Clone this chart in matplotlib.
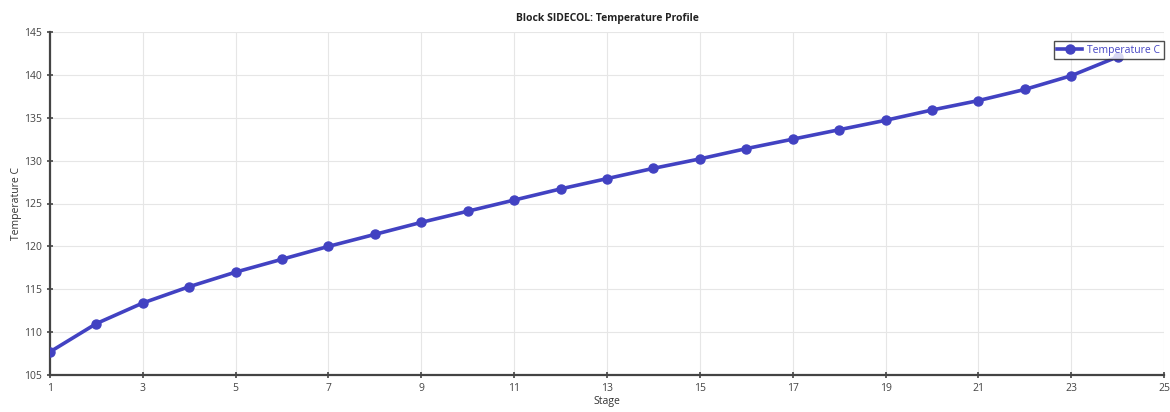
import matplotlib
matplotlib.use('Agg')
import matplotlib.pyplot as plt

# stage temperatures for the side column
stages = list(range(1, 25))
temps = [107.7, 111.0, 113.4, 115.3, 117.0, 118.5, 120.0, 121.4, 122.8, 124.1,
         125.4, 126.7, 127.9, 129.1, 130.2, 131.4, 132.5, 133.6, 134.7, 135.9,
         137.0, 138.3, 139.9, 142.1]
xticks = list(range(1, 26, 2))
yticks = list(range(105, 146, 5))

plt.rcParams['font.family'] = ['Open Sans', 'DejaVu Sans']

fig = plt.figure(figsize=(11.7, 4.12), dpi=100)
ax = fig.add_axes([50 / 1170, 37 / 412, 1114 / 1170, 343 / 412])

ax.plot(stages, temps, color='#4242c2', lw=2.6, marker='o', ms=6.5,
        label='Temperature C', zorder=3)

ax.set_xlim(1, 25)
ax.set_ylim(105, 145)
ax.set_xticks(xticks)
ax.set_yticks(yticks)
ax.grid(True, color='#e6e6e6', lw=0.8)
ax.set_axisbelow(True)

for side in ['top', 'right']:
    ax.spines[side].set_visible(False)
for side in ['left', 'bottom']:
    ax.spines[side].set_color('#444444')
    ax.spines[side].set_linewidth(1.6)
ax.tick_params(direction='inout', length=5, width=1.2, color='#444444',
               labelsize=7.5, labelcolor='#444444')

ax.set_xlabel('Stage', fontsize=7.5, color='#333333', labelpad=1)
ax.set_ylabel('Temperature C', fontsize=7.5, color='#333333', labelpad=1)
ax.set_title('Block SIDECOL: Temperature Profile', fontsize=7.5,
             fontweight='bold', color='#222222', pad=8)

leg = ax.legend(loc='upper right', fontsize=7.5, frameon=True, fancybox=False,
                edgecolor='#222222', borderpad=0.35, handlelength=2.4,
                handletextpad=0.5, borderaxespad=0,
                bbox_to_anchor=(1.0, 0.974))
leg.get_frame().set_linewidth(1.0)
for t in leg.get_texts():
    t.set_color('#4444c4')

fig.savefig('out.png', dpi=100)
